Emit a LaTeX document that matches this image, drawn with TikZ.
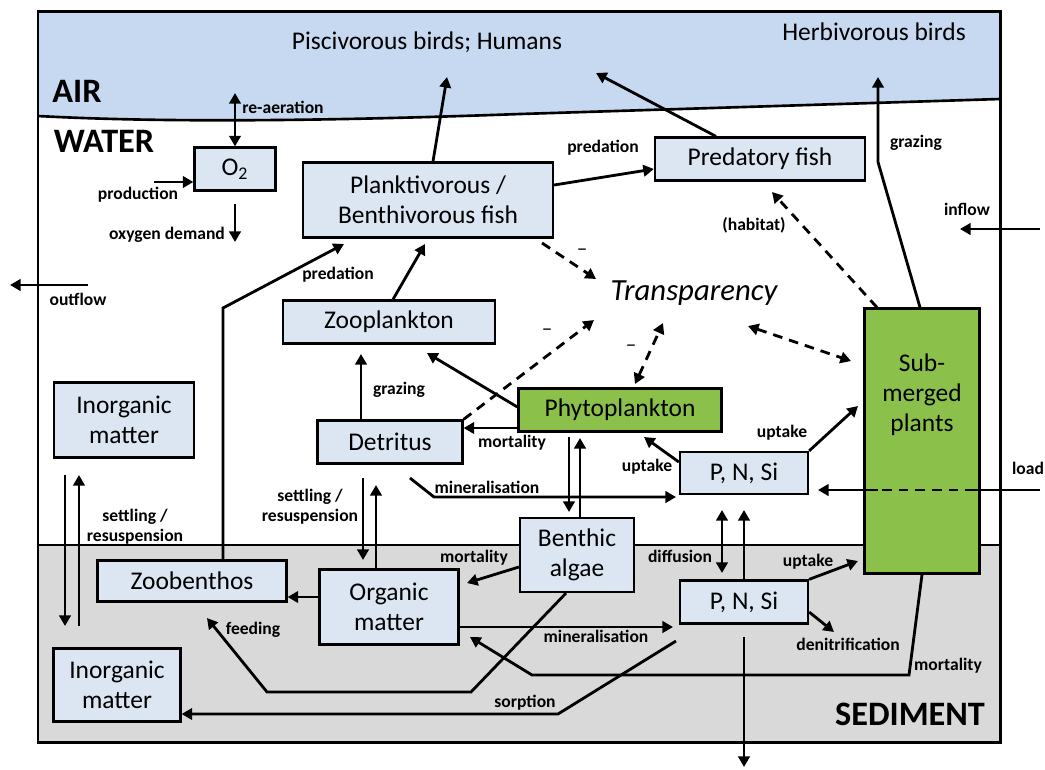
\documentclass[tikz,border=0pt]{standalone}
\usepackage{fontspec}
\setmainfont{Carlito}
\usetikzlibrary{arrows.meta}
\definecolor{airblue}{RGB}{198,217,240}
\definecolor{boxblue}{RGB}{220,230,242}
\definecolor{plantgreen}{RGB}{139,193,74}
\definecolor{sedgrey}{RGB}{217,217,217}

\begin{document}
\begin{tikzpicture}[x=0.02cm,y=-0.02cm,
  >={Triangle[length=6pt,width=6.5pt]},
  box/.style={draw,line width=1.3pt,fill=boxblue,align=center,inner sep=0pt,
    font=\fontsize{14.5}{17}\selectfont},
  greenbox/.style={box,fill=plantgreen},
  flow/.style={line width=1.6pt,->},
  dflow/.style={flow,dash pattern=on 5.5pt off 4pt},
  lbl/.style={font=\fontsize{10}{11.5}\selectfont\bfseries,align=center,inner sep=0pt},
  zone/.style={font=\fontsize{19.5}{22}\selectfont\bfseries,inner sep=0pt}]
  \useasboundingbox (0,0) rectangle (1045,769);

  % air, water, sediment
  \fill[airblue] (38,11) -- (1000,11) -- (1000,99) -- (520,114)
    .. controls (300,122) and (150,122) .. (38,116) -- cycle;
  \fill[sedgrey] (38,545) rectangle (1000,742);
  \draw[line width=1.5pt] (38,116) .. controls (150,122) and (300,122) .. (520,114) -- (1000,99);
  \draw[line width=1.5pt] (38,545) -- (1000,545);
  \draw[line width=1.7pt] (38,11) rectangle (1000,742);

  \node[zone] (air) at (77,91) {AIR};
  \node[zone] (water) at (104,141) {WATER};
  \node[zone] (sediment) at (910,714) {SEDIMENT};
  \node[font=\fontsize{14.5}{17}\selectfont] (humans) at (427,42) {Piscivorous birds; Humans};
  \node[font=\fontsize{14.5}{17}\selectfont] (herb) at (874,32) {Herbivorous birds};
  \node[font=\fontsize{17.5}{20}\selectfont\itshape] (transp) at (694,293) {Transparency};

  % compartments
  \node[box,minimum width=1.62cm,minimum height=0.86cm] (o2) at (235,169) {O\textsubscript{2}};
  \node[box,minimum width=5cm,minimum height=1.5cm] (fish) at (428,200) {Planktivorous /\\Benthivorous fish};
  \node[box,minimum width=4.2cm,minimum height=0.86cm] (pred) at (760,159) {Predatory fish};
  \node[box,minimum width=4.24cm,minimum height=0.86cm] (zoo) at (389,322) {Zooplankton};
  \node[box,minimum width=2.8cm,minimum height=1.5cm] (inorgw) at (124,420) {Inorganic\\matter};
  \node[box,minimum width=2.9cm,minimum height=0.86cm] (det) at (390,442) {Detritus};
  \node[greenbox,minimum width=4.06cm,minimum height=0.86cm] (phyto) at (620,410) {Phytoplankton};
  \node[box,minimum width=2.56cm,minimum height=0.84cm] (nutw) at (744,473) {P, N, Si};
  \node[greenbox,minimum width=2.3cm,minimum height=5.3cm] (plants) at (922,441) {};
  \node[align=center,font=\fontsize{14.5}{17}\selectfont] (plantstxt) at (922,395) {Sub-\\merged\\plants};
  \node[box,minimum width=2.28cm,minimum height=1.48cm] (benth) at (577,555) {Benthic\\algae};
  \node[box,minimum width=3.78cm,minimum height=0.82cm] (zoob) at (192,581) {Zoobenthos};
  \node[box,minimum width=2.78cm,minimum height=1.5cm] (org) at (389,607) {Organic\\matter};
  \node[box,minimum width=2.54cm,minimum height=1.46cm] (inorgs) at (117,685) {Inorganic\\matter};
  \node[box,minimum width=2.56cm,minimum height=0.86cm] (nuts) at (744,602) {P, N, Si};

  % flows in the water column
  \draw[flow,<->] (235,93) -- (o2.north);
  \draw[flow] (154,182) -- (o2.west |- 154,182);
  \draw[flow] (235,204) -- (235,242);
  \draw[flow] (433,0 |- fish.north) -- (447,77);
  \draw[flow] (716,0 |- pred.north) -- (596,73);
  \draw[flow] (fish.east |- 0,185) -- (pred.west |- 0,169);
  \draw[flow] (393,0 |- zoo.north) -- (425,244);
  \draw[flow] (223,0 |- zoob.north) -- (223,308) -- (344,244);
  \draw[flow] (361,0 |- det.north) -- (361,354);
  \draw[flow] (phyto.west |- 0,407) -- (427,353);
  \draw[flow] (phyto.west |- 0,428) -- (det.east |- 0,428);
  \draw[flow] (920,0 |- plants.north) -- (878,162) -- (878,77);
  \draw[flow] (1040,229) -- (960,229);
  \draw[flow] (88,285) -- (10,285);
  \draw[flow] (410,478) -- (434,497) -- (676,497);
  \draw[flow] (569,437) -- (569,512);
  \draw[flow] (580,0 |- benth.north) -- (580,438);
  \draw[flow] (nutw.west |- 0,462) -- (644,437);
  \draw[flow] (nutw.north east) -- (858,406);
  \draw[flow] (65,475) -- (65,626);
  \draw[flow] (79,626) -- (79,475);
  \draw[flow] (363,478) -- (363,560);
  \draw[flow] (376,0 |- org.north) -- (376,485);

  % load through the plants
  \draw[line width=1.6pt] (1040,490) -- (975,490);
  \draw[line width=1.6pt,dash pattern=on 5.5pt off 4pt] (975,490) -- (878,490);
  \draw[flow] (878,490) -- (818,490);

  % effects on transparency
  \draw[dflow] (542,243) -- (596,279);
  \draw[dflow] (det.north east) -- (594,320);
  \draw[dflow,<->] (635,384) -- (663,323);
  \draw[dflow,<->] (748,326) -- (851,361);
  \draw[dflow] (877,0 |- plants.north) -- (772,192);

  % flows in the sediment
  \draw[flow,<->] (722,510) -- (722,573);
  \draw[flow] (744,0 |- nuts.north) -- (744,510);
  \draw[flow] (nuts.north east) -- (858,561);
  \draw[flow] (nuts.east |- 0,612) -- (834,632);
  \draw[flow] (744,637) -- (744,767);
  \draw[flow] (922,0 |- plants.south) -- (909,675) -- (532,675) -- (470,637);
  \draw[flow] (benth.west |- 0,567) -- (467,583);
  \draw[flow] (org.west |- 0,597) -- (zoob.east |- 0,597);
  \draw[flow] (566,0 |- benth.south) -- (471,692) -- (267,692) -- (207,618);
  \draw[flow] (org.east |- 0,627) -- (673,627);
  \draw[flow] (676,641) -- (558,714) -- (inorgs.east |- 0,714);

  % flow labels
  \node[lbl] (reaer) at (283,107) {re-aeration};
  \node[lbl] (prod) at (138,195) {production};
  \node[lbl] (oxdem) at (167,235) {oxygen demand};
  \node[lbl] (predla) at (603,148) {predation};
  \node[lbl] (predlb) at (338,275) {predation};
  \node[lbl] (grazz) at (399,390) {grazing};
  \node[lbl] (mortp) at (512,443) {mortality};
  \node[lbl] (habit) at (754,225) {(habitat)};
  \node[lbl] (grazb) at (916,143) {grazing};
  \node[lbl] (infl) at (967,209) {inflow};
  \node[lbl] (outfl) at (78,299) {outflow};
  \node[lbl] (loadl) at (1028,468) {load};
  \node[lbl] (minw) at (487,487) {mineralisation};
  \node[lbl] (uptp) at (647,467) {uptake};
  \node[lbl] (uptw) at (782,433) {uptake};
  \node[lbl] (diff) at (680,556) {diffusion};
  \node[lbl] (upts) at (808,562) {uptake};
  \node[lbl] (denit) at (848,644) {denitrification};
  \node[lbl] (mortm) at (948,666) {mortality};
  \node[lbl] (mortb) at (474,558) {mortality};
  \node[lbl] (feed) at (253,630) {feeding};
  \node[lbl] (mins) at (596,636) {mineralisation};
  \node[lbl] (sorp) at (525,703) {sorption};
  \node[lbl] (setw) at (135,527) {settling /\\resuspension};
  \node[lbl] (setd) at (310,507) {settling /\\resuspension};
  \node[font=\fontsize{12}{14}\selectfont] (minusa) at (582,252) {–};
  \node[font=\fontsize{12}{14}\selectfont] (minusb) at (547,332) {–};
  \node[font=\fontsize{12}{14}\selectfont] (minusc) at (631,348) {–};
\end{tikzpicture}
\end{document}
